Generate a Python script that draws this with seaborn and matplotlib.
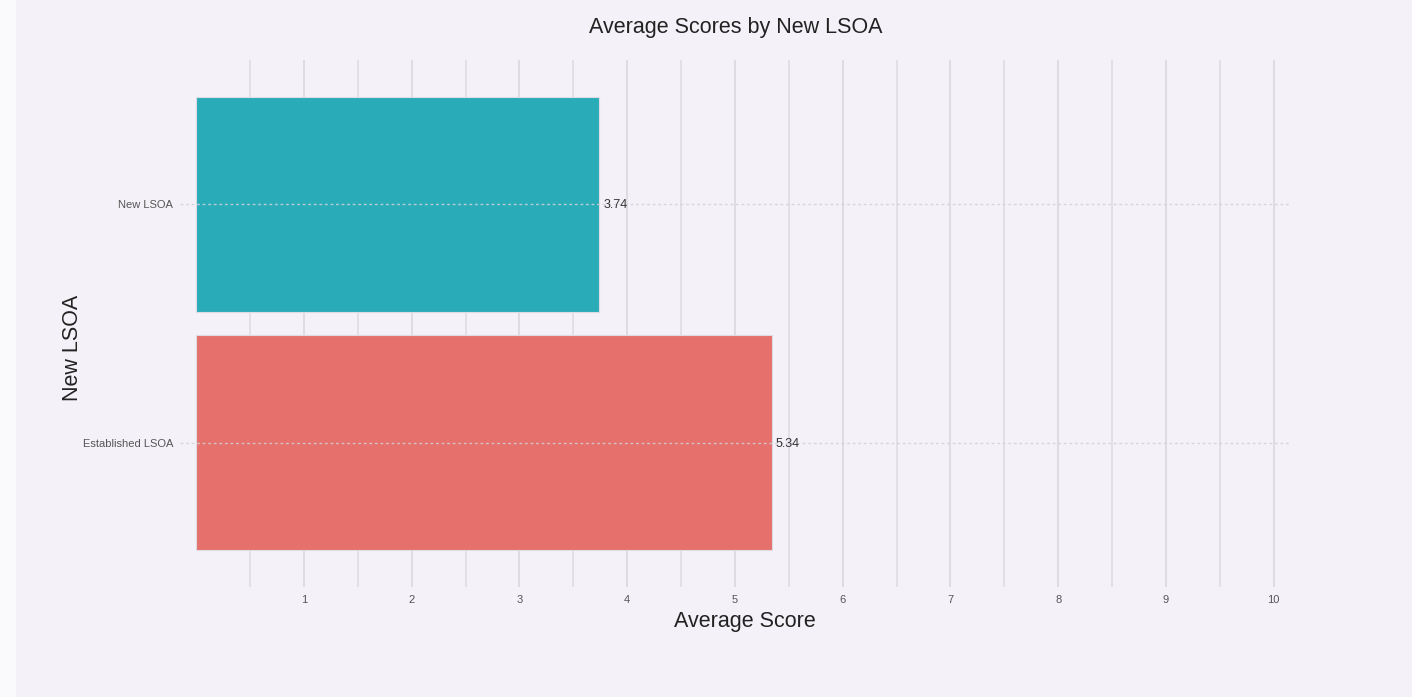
import pandas as pd
import numpy as np
import matplotlib.pyplot as plt
import matplotlib.patches as mpatches
import seaborn as sns

categories = ['New LSOA', 'Established LSOA']
avg_scores = [3.74, 5.34]
bar_colors = ['#29acb8', '#e6706b']
x_ticks = [1, 2, 3, 4, 5, 6, 7, 8, 9, 10]

df = pd.DataFrame({'group': categories, 'score': avg_scores})

sns.set_theme(style='white')
plt.rcParams['font.family'] = ['Liberation Sans', 'DejaVu Sans']

bg = '#f4f2f8'
fig = plt.figure(figsize=(14.12, 6.97), dpi=100, facecolor=bg)
fig.patches.append(mpatches.Rectangle((0, 0), 16 / 1412, 1, transform=fig.transFigure,
                                      facecolor='#fafafd', edgecolor='none', zorder=0))
ax = fig.add_axes([180 / 1412, 1 - 587 / 697, 1111 / 1412, 527 / 697])
ax.set_facecolor(bg)

sns.barplot(data=df, y='group', x='score', hue='group', order=categories,
            palette=dict(zip(categories, bar_colors)), width=0.9, saturation=1,
            legend=False, ax=ax, zorder=2, edgecolor='#dcdce2', linewidth=0.8)

ax.set_xlim(-0.15, 10.16)
ax.set_ylim(1.605, -0.605)

# vertical grid at integers and halves
ax.set_xticks(x_ticks)
ax.set_xticks([v + 0.5 for v in range(0, 10)], minor=True)
ax.grid(axis='x', which='major', color='#dcdae0', linewidth=1.3, zorder=0)
ax.grid(axis='x', which='minor', color='#dfdde3', linewidth=1.2, zorder=0)
ax.set_axisbelow(True)

# horizontal dotted lines through the bar centres
for i in range(len(categories)):
    ax.axhline(i, color='#d2d0d8', linewidth=1.0, linestyle=(0, (2, 2)), alpha=0.85, zorder=3)

for i, v in enumerate(avg_scores):
    ax.text(v + 0.04, i + 0.005, f'{v:.2f}', va='center', ha='left', fontsize=9, color='#333333', zorder=4)

for s in ax.spines.values():
    s.set_visible(False)
ax.tick_params(axis='both', length=0, labelsize=8, labelcolor='#555555')
ax.tick_params(axis='y', pad=5)
ax.tick_params(axis='x', pad=6)

ax.set_xlabel('Average Score', fontsize=15.5, color='#222222')
ax.set_ylabel('New LSOA', fontsize=15.5, color='#222222')
ax.xaxis.set_label_coords(0.508, -0.065)
ax.yaxis.set_label_coords(-0.097, 0.4535)
ax.xaxis.label.set_va('center')
ax.yaxis.label.set_va('center')

fig.text(736 / 1412, 1 - 27 / 697, 'Average Scores by New LSOA', ha='center', va='center',
         fontsize=15.5, color='#222222')

fig.savefig('out.png', dpi=100, facecolor=bg)
